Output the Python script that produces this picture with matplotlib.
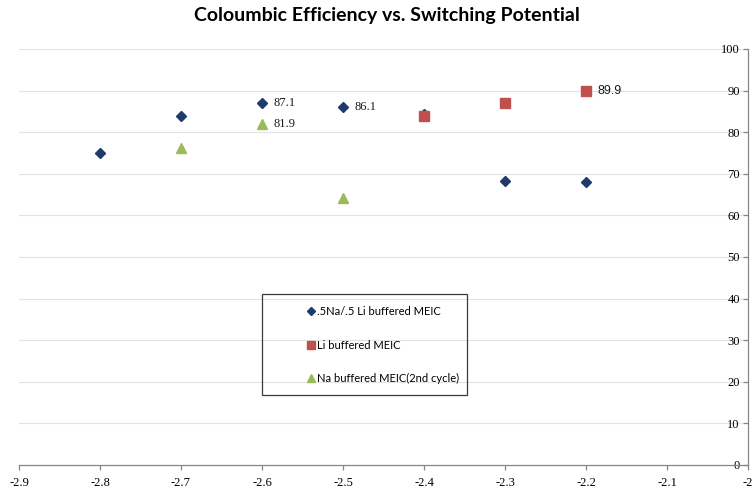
"""
Coloumbic efficiency vs. switching potential, three electrolyte series.
"""

import matplotlib
matplotlib.use("Agg")
import matplotlib.pyplot as plt
from matplotlib.patches import Rectangle

# ---------------------------------------------------------------------
# Data
# ---------------------------------------------------------------------

MIX_X = [-2.8, -2.7, -2.6, -2.5, -2.4, -2.3, -2.2]
MIX_Y = [75.0, 84.0, 87.1, 86.1, 84.4, 68.2, 67.9]

LI_X = [-2.4, -2.3, -2.2]
LI_Y = [84.0, 87.1, 89.9]

NA_X = [-2.7, -2.6, -2.5]
NA_Y = [76.1, 81.9, 64.1]

SERIES_NAMES = [
    ".5Na/.5 Li buffered MEIC",
    "Li buffered MEIC",
    "Na buffered MEIC(2nd cycle)",
]

# (series, x, y, text) for the value labels
LABELS = [
    ("mix", -2.6, 87.1, "87.1"),
    ("mix", -2.5, 86.1, "86.1"),
    ("na", -2.6, 81.9, "81.9"),
    ("li", -2.2, 89.9, "89.9"),
]

X_TICKS = [-2.9, -2.8, -2.7, -2.6, -2.5, -2.4, -2.3, -2.2, -2.1, -2.0]
Y_TICKS = list(range(0, 101, 10))

BLUE = "#1F3B6B"
RED = "#C0504D"
GREEN = "#9BBB59"
AXIS_GREY = "#868686"


def main() -> None:
    fig = plt.figure(figsize=(7.54, 4.91), dpi=100)
    ax = fig.add_axes([0.0252, 0.0530, 0.967, 0.8473])

    ax.set_xlim(-2.9, -2.0)
    ax.set_ylim(0, 100)

    # horizontal gridlines
    for y in Y_TICKS[1:]:
        ax.axhline(y, color="#E3E3E3", linewidth=0.8, zorder=0)

    ax.plot(MIX_X, MIX_Y, linestyle="none", marker="D", markersize=5.0,
            color=BLUE, label=SERIES_NAMES[0], zorder=3)
    ax.plot(LI_X, LI_Y, linestyle="none", marker="s", markersize=6.6,
            color=RED, label=SERIES_NAMES[1], zorder=4)
    ax.plot(NA_X, NA_Y, linestyle="none", marker="^", markersize=7.5,
            color=GREEN, label=SERIES_NAMES[2], zorder=5)

    for series, x, y, text in LABELS:
        family = "Liberation Sans" if series == "li" else "Liberation Serif"
        ax.annotate(text, (x, y), xytext=(8, 0), textcoords="offset points",
                    ha="left", va="center", fontsize=9, family=family,
                    color="#1A1A1A")

    # axes: y axis sits on the right edge (x = -2)
    for side in ("left", "top"):
        ax.spines[side].set_visible(False)
    for side in ("right", "bottom"):
        ax.spines[side].set_color(AXIS_GREY)
        ax.spines[side].set_linewidth(0.9)

    ax.set_xticks(X_TICKS)
    ax.set_xticklabels(["-2.9", "-2.8", "-2.7", "-2.6", "-2.5", "-2.4",
                        "-2.3", "-2.2", "-2.1", "-2"])
    ax.set_yticks(Y_TICKS)
    ax.tick_params(axis="x", direction="out", length=3.5, width=0.9,
                   color=AXIS_GREY, pad=5, labelsize=9)
    ax.tick_params(axis="y", left=False, right=True, labelleft=False,
                   labelright=True, direction="in", length=3.5, width=0.9,
                   color=AXIS_GREY, pad=-6, labelsize=9)
    for lbl in ax.get_yticklabels():
        lbl.set_horizontalalignment("right")
    for lbl in ax.get_xticklabels() + ax.get_yticklabels():
        lbl.set_family("Liberation Serif")

    # legend box
    box_x0, box_y0, box_w, box_h = 0.333, 0.168, 0.281, 0.243
    ax.add_patch(Rectangle((box_x0, box_y0), box_w, box_h,
                           transform=ax.transAxes, fill=False,
                           edgecolor="#3A3A3A", linewidth=0.9, zorder=6))
    leg = ax.legend(loc="upper left", bbox_to_anchor=(0.385, 0.40),
                    frameon=False, markerscale=0.85,
                    handlelength=0.6, handletextpad=0.3, labelspacing=2.0,
                    borderpad=0.2, prop={"family": "Lato", "size": 8})
    leg.set_zorder(7)

    fig.suptitle("Coloumbic Efficiency vs. Switching Potential",
                 x=0.513, y=0.985, fontsize=14, fontweight="bold",
                 family="Lato")

    fig.savefig("out.png", dpi=100)


if __name__ == "__main__":
    main()
